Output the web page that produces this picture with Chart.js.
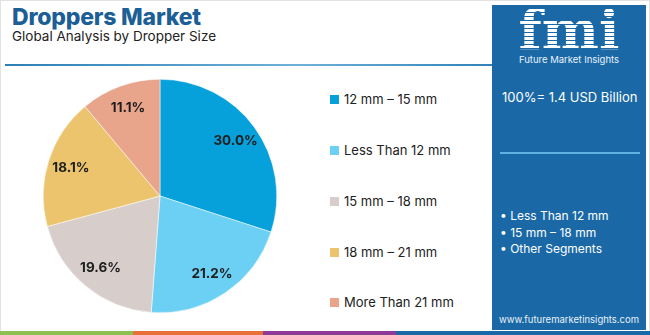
<!DOCTYPE html>
<html>
<head>
<meta charset="utf-8">
<script src="https://cdn.jsdelivr.net/npm/chart.js@4"></script>
<style>
  html, body { margin: 0; padding: 0; background: #fff; }
  body { width: 650px; height: 335px; position: relative; overflow: hidden; font-family: "Inter", "Open Sans", sans-serif; }
  .frame { position: absolute; left: 0; top: 0; width: 648px; height: 333px; border: 1px solid #e2e2e2; }
  h1 { position: absolute; left: 12px; top: 3px; margin: 0; font-size: 23px; font-weight: 800; color: #1c5f96; letter-spacing: -0.2px; }
  .sub { position: absolute; left: 12px; top: 28px; font-size: 13.5px; color: #222; }
  .rule { position: absolute; left: 5px; top: 64px; width: 488px; height: 2px; background: linear-gradient(to right, #2d7fb5, #6fb0d8 60%, #2f82b8); }
  #wrap { position: absolute; left: 40px; top: 76px; width: 240px; height: 240px; }
  .legend { position: absolute; left: 330px; top: 0; }
  .legend div { position: absolute; white-space: nowrap; font-size: 13px; color: #222; display: flex; align-items: center; }
  .legend span { display: inline-block; width: 9px; height: 9px; margin-right: 5px; }
  .panel { position: absolute; left: 492px; top: 5px; width: 154px; height: 325px; background: #1a69a6; color: #fff; }
  .logo { position: absolute; left: 0; top: 0px; width: 154px; text-align: center; font-family: "DejaVu Serif", serif; font-weight: bold; font-size: 54px; line-height: 50px; color: #fff; letter-spacing: 0px;
          background: repeating-linear-gradient(to bottom, #fff 0 3px, #1a69a6 3px 4px); -webkit-background-clip: text; background-clip: text; -webkit-text-fill-color: transparent; }
  .fmi-name { position: absolute; left: 0; top: 49px; width: 154px; text-align: center; font-size: 9.5px; color: #e8f2fa; }
  .total { position: absolute; left: 10px; top: 84px; font-size: 13px; white-space: nowrap; }
  .divider { position: absolute; left: 8px; top: 147px; width: 140px; height: 2px; background: #5fb1e2; }
  .bullets { position: absolute; left: 8px; top: 203px; font-size: 12px; line-height: 16.5px; white-space: nowrap; }
  .url { position: absolute; left: 0; top: 309px; width: 154px; text-align: center; font-size: 9.5px; color: #e8f2fa; }
  .stripe { position: absolute; top: 331px; height: 4px; }
</style>
</head>
<body>
<div class="frame"></div>
<h1>Droppers Market</h1>
<div class="sub">Global Analysis by Dropper Size</div>
<div class="rule"></div>
<div id="wrap"><canvas id="chart-dropper-size"></canvas></div>
<div class="legend" id="legend"></div>
<div class="panel">
  <div class="logo">fmi</div>
  <div class="fmi-name">Future Market Insights</div>
  <div class="total">100%= 1.4 USD Billion</div>
  <div class="divider"></div>
  <div class="bullets">• Less Than 12 mm<br>• 15 mm – 18 mm<br>• Other Segments</div>
  <div class="url">www.futuremarketinsights.com</div>
</div>
<div class="stripe" style="left:0;width:133px;background:#8cc152"></div>
<div class="stripe" style="left:133px;width:130px;background:#e8703a"></div>
<div class="stripe" style="left:263px;width:133px;background:#8e3a96"></div>
<div class="stripe" style="left:396px;width:254px;background:#1a69a6"></div>

<script>
// Dropper size share, %
const categories = ['12 mm – 15 mm', 'Less Than 12 mm', '15 mm – 18 mm', '18 mm – 21 mm', 'More Than 21 mm'];
const shares = [30.0, 21.2, 19.6, 18.1, 11.1];
const sliceColors = ['#06a0db', '#6ccff4', '#d7cecc', '#ebc46d', '#e9a48c'];

// legend on the right, one row per category
const legendTops = [91, 142, 193, 244, 294];
const legend = document.getElementById('legend');
categories.forEach((name, i) => {
  const row = document.createElement('div');
  row.style.top = legendTops[i] + 'px';
  row.innerHTML = `<span style="background:${sliceColors[i]}"></span>${name}`;
  legend.appendChild(row);
});

// percent labels inside the slices
const sliceLabels = {
  id: 'sliceLabels',
  afterDatasetsDraw(chart) {
    const { ctx } = chart;
    const meta = chart.getDatasetMeta(0);
    ctx.save();
    ctx.font = 'bold 13.5px "Inter", "Open Sans", sans-serif';
    ctx.fillStyle = '#1e1e1e';
    ctx.textAlign = 'center';
    ctx.textBaseline = 'middle';
    meta.data.forEach((arc, i) => {
      const mid = (arc.startAngle + arc.endAngle) / 2;
      const r = arc.outerRadius * 0.8;
      ctx.fillText(shares[i].toFixed(1) + '%', arc.x + Math.cos(mid) * r, arc.y + Math.sin(mid) * r);
    });
    ctx.restore();
  },
};

new Chart(document.getElementById('chart-dropper-size'), {
  type: 'pie',
  data: {
    labels: categories,
    datasets: [{
      data: shares,
      backgroundColor: sliceColors,
      borderColor: '#ffffff',
      borderWidth: 0.5,
    }],
  },
  options: {
    responsive: true,
    maintainAspectRatio: false,
    animation: false,
    layout: { padding: 3 },
    plugins: {
      legend: { display: false },
      tooltip: { enabled: false },
    },
  },
  plugins: [sliceLabels],
});
</script>
</body>
</html>
